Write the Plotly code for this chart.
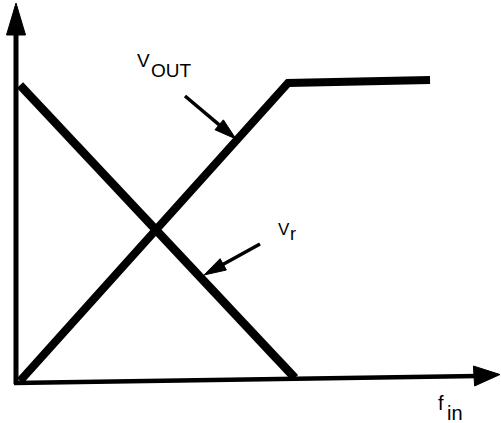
import plotly.graph_objects as go
import math

# ---- data (schematic units) ----
f_vout = [0.0, 1.0, 1.53]
v_vout = [0.0, 1.0, 1.01]
f_vr = [0.0, 1.026]
v_vr = [0.993, 0.01]

# ---- layout helpers (pixel <-> data) ----
W, H = 501, 423
X0, Y0, SX, SY = 20.0, 381.0, 268.0, 298.0

def fx(px):
    return (px - X0) / SX

def vy(py):
    return (Y0 - py) / SY

def tri_path(tip, base_c, half_w):
    tx, ty = tip
    bx, by = base_c
    dx, dy = tx - bx, ty - by
    L = math.hypot(dx, dy)
    nx, ny = -dy / L, dx / L
    p1 = (bx + nx * half_w, by + ny * half_w)
    p2 = (bx - nx * half_w, by - ny * half_w)
    pts = [tip, p1, p2]
    s = "M " + " L ".join(f"{fx(x):.5f},{vy(y):.5f}" for x, y in pts) + " Z"
    return s

fig = go.Figure()

fig.add_trace(go.Scatter(x=f_vout, y=v_vout, mode="lines",
                         line=dict(color="black", width=8), hoverinfo="skip"))
fig.add_trace(go.Scatter(x=f_vr, y=v_vr, mode="lines",
                         line=dict(color="black", width=8.5), hoverinfo="skip"))

shapes = []
# y axis
shapes.append(dict(type="line", x0=fx(16), y0=vy(384), x1=fx(16), y1=vy(30),
                   line=dict(color="black", width=5)))
shapes.append(dict(type="path", path=tri_path((16, 3), (16, 35), 9.5),
                   fillcolor="black", line=dict(color="black", width=1)))
# x axis
shapes.append(dict(type="line", x0=fx(14), y0=vy(383), x1=fx(478), y1=vy(376),
                   line=dict(color="black", width=4.5)))
shapes.append(dict(type="path", path=tri_path((500, 374.5), (474, 376), 10),
                   fillcolor="black", line=dict(color="black", width=1)))

# pointer arrows
def pointer(tail, tip, head_len=22, half_w=6.5):
    tx, ty = tip
    sx, sy = tail
    L = math.hypot(tx - sx, ty - sy)
    ux, uy = (tx - sx) / L, (ty - sy) / L
    base = (tx - ux * head_len, ty - uy * head_len)
    shapes.append(dict(type="line", x0=fx(sx), y0=vy(sy), x1=fx(base[0] + ux * 2), y1=vy(base[1] + uy * 2),
                       line=dict(color="black", width=3.5)))
    shapes.append(dict(type="path", path=tri_path(tip, base, half_w),
                       fillcolor="black", line=dict(color="black", width=1)))

pointer((185, 96), (236, 139))
pointer((260, 244), (204, 275))

annotations = []
FONT = "Liberation Sans, Arial, sans-serif"

def label(text, px, py, size):
    annotations.append(dict(text=text, x=fx(px), y=vy(py), xref="x", yref="y",
                            showarrow=False, xanchor="left", yanchor="middle",
                            font=dict(family=FONT, size=size, color="black")))

label("V", 135, 60, 19)
label("OUT", 149, 70.4, 19)
label("V", 275.5, 229, 17)
label("r", 287.5, 234, 18)
label("f", 436, 403, 20)
label("in", 445, 412.6, 20)

fig.update_layout(
    width=W, height=H,
    margin=dict(l=0, r=0, t=0, b=0),
    paper_bgcolor="white", plot_bgcolor="white",
    showlegend=False,
    shapes=shapes,
    annotations=annotations,
    xaxis=dict(range=[fx(0), fx(W)], visible=False, fixedrange=True),
    yaxis=dict(range=[vy(H), vy(0)], visible=False, fixedrange=True),
)

fig.write_html("out.html", config={"displayModeBar": False},
               post_script="document.body.style.margin='0';")
